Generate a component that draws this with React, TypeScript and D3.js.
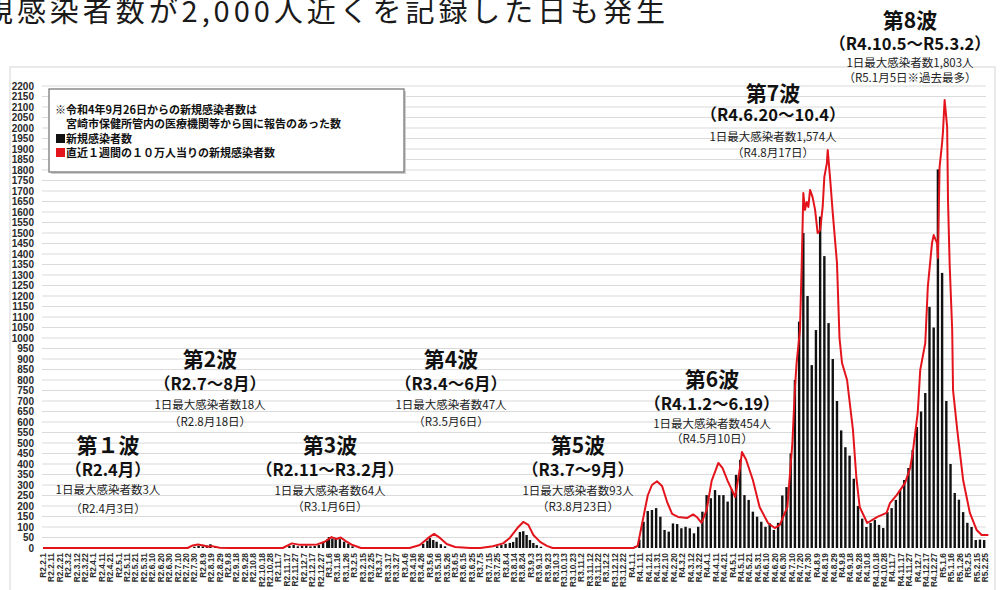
import React from 'react';
import * as d3 from 'd3';

const W = 1003;
const H = 590;

// 直近1週間の10万人当り (red line)
const redDates = [
  '2020-02-01', '2020-07-22', '2020-07-28', '2020-08-03', '2020-08-10', '2020-08-15', '2020-08-20', '2020-08-29', '2020-09-10',
  '2020-11-12', '2020-11-23', '2020-12-01', '2020-12-10', '2020-12-23', '2021-01-01', '2021-01-09', '2021-01-15', '2021-01-20',
  '2021-01-26', '2021-02-03', '2021-02-13', '2021-04-12', '2021-04-24', '2021-05-04', '2021-05-11', '2021-05-18', '2021-05-26',
  '2021-06-05', '2021-06-23', '2021-07-05', '2021-07-20', '2021-08-01', '2021-08-09', '2021-08-18', '2021-08-25', '2021-08-31',
  '2021-09-06', '2021-09-14', '2021-09-22', '2021-09-29', '2022-01-03', '2022-01-08', '2022-01-14', '2022-01-20', '2022-01-25',
  '2022-01-31', '2022-02-06', '2022-02-12', '2022-02-18', '2022-02-25', '2022-03-08', '2022-03-15', '2022-03-20', '2022-03-25',
  '2022-03-31', '2022-04-06', '2022-04-14', '2022-04-19', '2022-04-25', '2022-05-04', '2022-05-10', '2022-05-12', '2022-05-17',
  '2022-05-25', '2022-06-02', '2022-06-12', '2022-06-20', '2022-06-26', '2022-07-05', '2022-07-11', '2022-07-14', '2022-07-16',
  '2022-07-20', '2022-07-22', '2022-07-24', '2022-07-26', '2022-07-28', '2022-07-30', '2022-08-01', '2022-08-04', '2022-08-07',
  '2022-08-10', '2022-08-13', '2022-08-16', '2022-08-18', '2022-08-21', '2022-08-22', '2022-08-25', '2022-08-28', '2022-09-02',
  '2022-09-05', '2022-09-08', '2022-09-14', '2022-09-21', '2022-09-25', '2022-09-29', '2022-10-08', '2022-10-20', '2022-10-31',
  '2022-11-04', '2022-11-12', '2022-11-22', '2022-11-28', '2022-12-01', '2022-12-07', '2022-12-10', '2022-12-16', '2022-12-19',
  '2022-12-24', '2022-12-26', '2022-12-30', '2022-12-31', '2023-01-02', '2023-01-05', '2023-01-06', '2023-01-08', '2023-01-11',
  '2023-01-12', '2023-01-14', '2023-01-17', '2023-01-18', '2023-01-23', '2023-01-30', '2023-02-07', '2023-02-15', '2023-02-21',
  '2023-03-01',
];
const redValues = [
  0, 0, 12, 17, 12, 6, 9, 1, 0,
  0, 22, 16, 15, 17, 30, 52, 43, 50,
  33, 14, 0, 0, 14, 48, 67, 48, 19,
  5, 0, 0, 8, 22, 48, 95, 124, 110,
  62, 29, 10, 0, 0, 10, 130, 250, 300,
  318, 295, 220, 162, 148, 143, 160, 145, 120,
  180, 320, 405, 380, 320, 243, 390, 457, 420,
  324, 195, 119, 95, 110, 195, 500, 760, 881,
  1038, 1338, 1690, 1610, 1648, 1624, 1705, 1671, 1610,
  1500, 1514, 1624, 1767, 1833, 1895, 1752, 1595, 1357,
  1000, 881, 800, 562, 338, 195, 119, 148, 167,
  214, 252, 310, 381, 452, 643, 848, 976, 1243,
  1452, 1490, 1452, 1381, 1814, 1929, 1981, 2133, 2005,
  1657, 1348, 1038, 752, 562, 324, 167, 86, 62,
  62,
];

// 新規感染者数 (black bars), waves 2-5
const earlyBarDates = [
  '2020-07-30', '2020-08-04', '2020-08-09', '2020-08-14', '2020-08-18', '2020-08-24',
  '2020-11-20', '2020-11-25', '2020-11-30', '2020-12-05', '2020-12-10', '2020-12-15', '2020-12-20', '2020-12-25',
  '2020-12-30', '2021-01-04', '2021-01-06', '2021-01-10', '2021-01-14', '2021-01-19', '2021-01-24', '2021-01-29', '2021-02-03',
  '2021-04-28', '2021-05-03', '2021-05-06', '2021-05-10', '2021-05-14', '2021-05-19', '2021-05-24',
  '2021-07-25', '2021-07-30', '2021-08-04', '2021-08-09', '2021-08-13', '2021-08-17', '2021-08-21', '2021-08-25',
  '2021-08-29', '2021-09-02', '2021-09-06', '2021-09-10', '2021-09-15',
];
const earlyBarValues = [
  6, 10, 8, 12, 18, 6,
  10, 14, 8, 10, 12, 8, 10, 14,
  25, 40, 52, 45, 48, 42, 30, 20, 8,
  20, 35, 47, 38, 30, 18, 8,
  8, 14, 20, 24, 29, 50, 76, 80,
  62, 38, 24, 14, 6,
];

// waves 6-8: one bar every 5 days from lateBarStart
const lateBarStart = '2022-01-05';
const lateBarStep = 5;
const lateBarValues = [
  8, 40, 125, 176, 181, 190, 149, 86, 78, 117,
  114, 94, 101, 94, 70, 101, 173, 252, 237, 276,
  252, 252, 221, 280, 348, 420, 252, 229, 173, 149,
  125, 101, 117, 86, 120, 250, 290, 450, 800, 1078,
  1500, 1200, 871, 1038, 1578, 1390, 1071, 900, 700, 560,
  480, 440, 330, 200, 140, 100, 119, 133, 110, 95,
  171, 190, 229, 276, 324, 381, 467, 576, 650, 738,
  1148, 1050, 1803, 1310, 700, 400, 262, 230, 171, 120,
  100, 38, 40, 38,
];

const tickStart = '2020-02-01';
const tickEnd = '2023-02-25';
const tickStepDays = 10;

const legendLines = [
  '※令和4年9月26日からの新規感染者数は',
  '　宮崎市保健所管内の医療機関等から国に報告のあった数',
];
const legendItems = ['新規感染者数', '直近１週間の１０万人当りの新規感染者数'];

const waveTitles = ['第１波', '第2波', '第3波', '第4波', '第5波', '第6波', '第7波', '第8波'];
const wavePeriods = ['（R2.4月）', '（R2.7～8月）', '（R2.11～R3.2月）', '（R3.4～6月）', '（R3.7～9月）',
  '（R4.1.2～6.19）', '（R4.6.20～10.4）', '（R4.10.5～R5.3.2）'];
const waveMaxima = ['1日最大感染者数3人', '1日最大感染者数18人', '1日最大感染者数64人', '1日最大感染者数47人',
  '1日最大感染者数93人', '1日最大感染者数454人', '1日最大感染者数1,574人', '1日最大感染者数1,803人'];
const waveMaxDates = ['（R2.4月3日）', '（R2.8月18日）', '（R3.1月6日）', '（R3.5月6日）', '（R3.8月23日）',
  '（R4.5月10日）', '（R4.8月17日）', '（R5.1月5日※過去最多）'];

// label block layout: centre x, y of each of the 4 lines
const waveLayout = [
  { cx: 108, ys: [444, 469, 489, 508] },
  { cx: 210, ys: [358, 383, 404, 421] },
  { cx: 330, ys: [444, 469, 490, 506] },
  { cx: 451, ys: [358, 383, 404, 421] },
  { cx: 578, ys: [444, 469, 490, 506] },
  { cx: 712, ys: [378, 403, 423, 438] },
  { cx: 773, ys: [92, 114, 136, 152] },
  { cx: 910, ys: [19, 43, 62, 77] },
];

const parse = d3.timeParse('%Y-%m-%d');
const JP = '"Noto Sans CJK JP", "Noto Sans", sans-serif';

export default function App() {
  const x = d3.scaleTime()
    .domain([parse(tickStart) as Date, parse(tickEnd) as Date])
    .range([43, 985]);
  const y = d3.scaleLinear().domain([0, 2200]).range([548, 86]);

  const yTicks = y.ticks(44);
  const t0 = parse(tickStart) as Date;
  const t1 = parse(tickEnd) as Date;
  const xTicks = d3.timeDay.range(t0, d3.timeDay.offset(t1, 1)).filter((d, i) => i % tickStepDays === 0);
  const fmt = (d: Date) => `R${d.getFullYear() - 2018}.${d.getMonth() + 1}.${d.getDate()}`;

  const lateStart = parse(lateBarStart) as Date;
  const bars = [
    ...earlyBarDates.map((d, i) => ({ date: parse(d) as Date, value: earlyBarValues[i] })),
    ...lateBarValues.map((v, i) => ({ date: d3.timeDay.offset(lateStart, i * lateBarStep), value: v })),
  ];

  const red = redDates.map((d, i) => ({ date: parse(d) as Date, value: redValues[i] }));
  const line = d3.line<{ date: Date; value: number }>()
    .x((d) => x(d.date))
    .y((d) => y(d.value));

  return (
    <svg width={W} height={H} style={{ position: 'absolute', left: 0, top: 0, background: '#fff' }}>
      {/* title */}
      <text x={-16} y={22} fontFamily={JP} fontSize={29} fill="#1a1a1a" textLength={681} lengthAdjust="spacing">
        規感染者数が2,000人近くを記録した日も発生
      </text>

      {/* chart frame */}
      <rect x={10} y={67} width={985} height={540} fill="#fff" stroke="#e3e3e3" strokeWidth={1.5} />

      {/* grid + y labels */}
      {yTicks.map((t) => (
        <g key={t}>
          {t > 0 && <line x1={42} x2={986} y1={y(t)} y2={y(t)} stroke="#dadada" strokeWidth={1.2} />}
          <text x={34} y={y(t)} dy="0.36em" textAnchor="end" fontFamily="'Liberation Sans', Arial, sans-serif"
            fontWeight="bold" fontSize={10} fill="#2a2a2a">{t}</text>
        </g>
      ))}

      {/* x labels */}
      {xTicks.map((d, i) => (
        <text key={i} transform={`translate(${x(d)},553) rotate(-90)`} dy="0.35em" textAnchor="end"
          fontFamily="'Liberation Sans', Arial, sans-serif" fontWeight="bold" fontSize={8.4} fill="#2a2a2a">
          {fmt(d)}
        </text>
      ))}

      {/* bars */}
      {bars.map((b, i) => (
        <rect key={i} x={x(b.date) - 1.2} width={2.4} y={y(b.value)} height={y(0) - y(b.value)} fill="#111" />
      ))}

      {/* red line */}
      <path d={line(red) || ''} fill="none" stroke="#e3141c" strokeWidth={2} strokeLinejoin="round" />

      {/* legend box */}
      <rect x={51} y={91} width={355} height={83} fill="#cfcfcf" />
      <rect x={49} y={89} width={355} height={83} fill="#fff" stroke="#7a7a7a" strokeWidth={1.3} />
      <g fontFamily={JP} fontWeight="bold" fontSize={11} fill="#111">
        <text x={55} y={114}>{legendLines[0]}</text>
        <text x={55} y={128}>{legendLines[1]}</text>
        <rect x={56} y={134} width={9} height={9} fill="#111" />
        <text x={66} y={143}>{legendItems[0]}</text>
        <rect x={56} y={148} width={9} height={9} fill="#e3141c" />
        <text x={66} y={157}>{legendItems[1]}</text>
      </g>

      {/* wave annotations */}
      {waveLayout.map((w, i) => (
        <g key={i} fontFamily={JP} textAnchor="middle" fill="#111">
          <text x={w.cx} y={w.ys[0]} dominantBaseline="central" fontWeight="bold" fontSize={21}>{waveTitles[i]}</text>
          <text x={w.cx} y={w.ys[1]} dominantBaseline="central" fontWeight="bold" fontSize={16.5}>{wavePeriods[i]}</text>
          <text x={w.cx} y={w.ys[2]} dominantBaseline="central" fontSize={11.5} fill="#222">{waveMaxima[i]}</text>
          <text x={w.cx} y={w.ys[3]} dominantBaseline="central" fontSize={11.5} fill="#222">{waveMaxDates[i]}</text>
        </g>
      ))}
    </svg>
  );
}
